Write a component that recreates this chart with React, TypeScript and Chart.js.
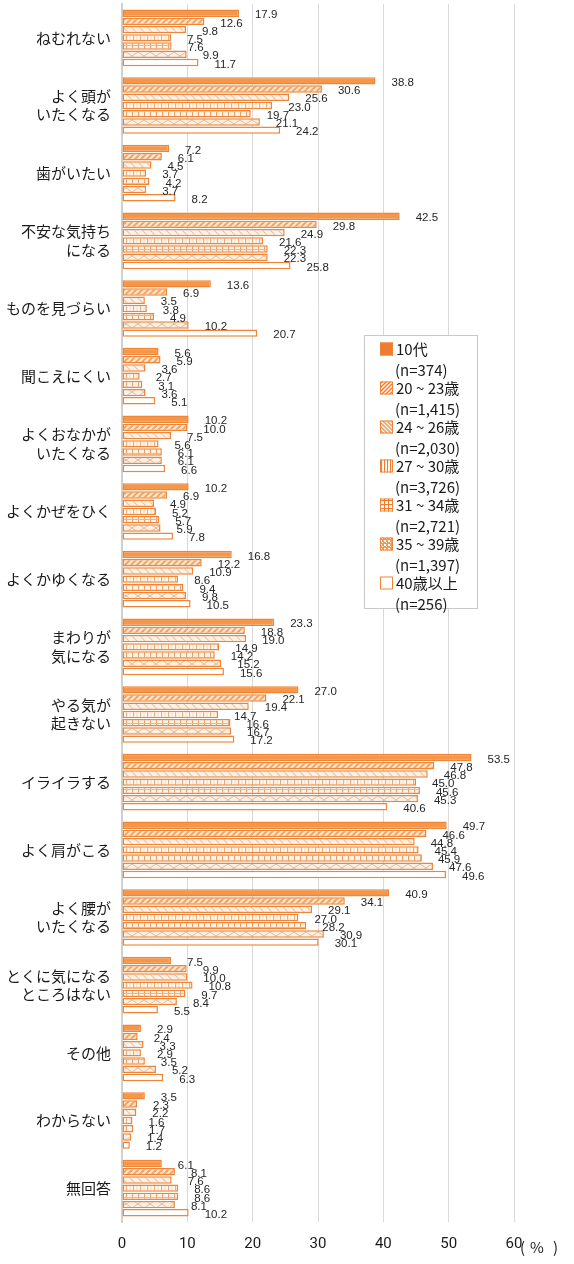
import React, { useEffect, useRef } from 'react';
import { Chart, registerables } from 'chart.js';

Chart.register(...registerables);

const categories: string[][] = [
  ['ねむれない'],
  ['よく頭が', 'いたくなる'],
  ['歯がいたい'],
  ['不安な気持ち', 'になる'],
  ['ものを見づらい'],
  ['聞こえにくい'],
  ['よくおなかが', 'いたくなる'],
  ['よくかぜをひく'],
  ['よくかゆくなる'],
  ['まわりが', '気になる'],
  ['やる気が', '起きない'],
  ['イライラする'],
  ['よく肩がこる'],
  ['よく腰が', 'いたくなる'],
  ['とくに気になる', 'ところはない'],
  ['その他'],
  ['わからない'],
  ['無回答'],
];

const seriesNames = ['10代', '20 ~ 23歳', '24 ~ 26歳', '27 ~ 30歳', '31 ~ 34歳', '35 ~ 39歳', '40歳以上'];
const sampleSizes = ['(n=374)', '(n=1,415)', '(n=2,030)', '(n=3,726)', '(n=2,721)', '(n=1,397)', '(n=256)'];

const teens = [17.9, 38.8, 7.2, 42.5, 13.6, 5.6, 10.2, 10.2, 16.8, 23.3, 27.0, 53.5, 49.7, 40.9, 7.5, 2.9, 3.5, 6.1];
const age20to23 = [12.6, 30.6, 6.1, 29.8, 6.9, 5.9, 10.0, 6.9, 12.2, 18.8, 22.1, 47.8, 46.6, 34.1, 9.9, 2.4, 2.3, 8.1];
const age24to26 = [9.8, 25.6, 4.5, 24.9, 3.5, 3.6, 7.5, 4.9, 10.9, 19.0, 19.4, 46.8, 44.8, 29.1, 10.0, 3.3, 2.2, 7.6];
const age27to30 = [7.5, 23.0, 3.7, 21.6, 3.8, 2.7, 5.6, 5.2, 8.6, 14.9, 14.7, 45.0, 45.4, 27.0, 10.8, 2.9, 1.6, 8.6];
const age31to34 = [7.6, 19.7, 4.2, 22.3, 4.9, 3.1, 6.1, 5.7, 9.4, 14.2, 16.6, 45.6, 45.9, 28.2, 9.7, 3.5, 1.7, 8.6];
const age35to39 = [9.9, 21.1, 3.7, 22.3, 10.2, 3.6, 6.1, 5.9, 9.8, 15.2, 16.7, 45.3, 47.6, 30.9, 8.4, 5.2, 1.4, 8.1];
const age40plus = [11.7, 24.2, 8.2, 25.8, 20.7, 5.1, 6.6, 7.8, 10.5, 15.6, 17.2, 40.6, 49.6, 30.1, 5.5, 6.3, 1.2, 10.2];

const seriesValues = [teens, age20to23, age24to26, age27to30, age31to34, age35to39, age40plus];

const xTicks = [0, 10, 20, 30, 40, 50, 60];

const ORANGE = '#EF8536';
const JP_FONT = '"Noto Sans CJK JP", "Noto Sans", sans-serif';

function makePattern(w: number, h: number, bg: string, draw: (g: CanvasRenderingContext2D) => void) {
  const c = document.createElement('canvas');
  c.width = w;
  c.height = h;
  const g = c.getContext('2d')!;
  g.fillStyle = bg;
  g.fillRect(0, 0, w, h);
  draw(g);
  return g.createPattern(c, 'repeat')!;
}

function line(g: CanvasRenderingContext2D, x1: number, y1: number, x2: number, y2: number, color: string, w: number) {
  g.strokeStyle = color;
  g.lineWidth = w;
  g.beginPath();
  g.moveTo(x1, y1);
  g.lineTo(x2, y2);
  g.stroke();
}

function barFills(): (string | CanvasPattern)[] {
  return [
    '#F5964A',
    makePattern(6, 6, '#FBE4CE', (g) => {
      const c = '#F0A161';
      line(g, 0, 6, 6, 0, c, 1.8);
      line(g, -3, 3, 3, -3, c, 1.8);
      line(g, 3, 9, 9, 3, c, 1.8);
    }),
    makePattern(8, 8, '#FCF1E7', (g) => {
      const c = '#E2C6AE';
      line(g, 0, 0, 8, 8, c, 1.1);
      line(g, -4, 4, 4, 12, c, 1.1);
      line(g, 4, -4, 12, 4, c, 1.1);
    }),
    makePattern(7, 8, '#FFF6EC', (g) => {
      line(g, 0.5, 0, 0.5, 8, '#E6AE84', 1.3);
      line(g, 4, 0, 4, 8, '#F3D8C0', 1);
    }),
    makePattern(6, 6, '#FFF2E4', (g) => {
      line(g, 0.5, 0, 0.5, 6, '#DFA272', 1.2);
      line(g, 0, 3.5, 6, 3.5, '#E7B892', 1);
    }),
    makePattern(12, 8, '#FCF0E5', (g) => {
      const c = '#D7BDA6';
      line(g, 0, 0, 12, 8, c, 1);
      line(g, 12, 0, 0, 8, c, 1);
    }),
    '#FFFFFF',
  ];
}

function legendFills(): (string | CanvasPattern)[] {
  return [
    '#EE7D31',
    makePattern(4, 4, '#FFFFFF', (g) => {
      const c = '#EE7D31';
      line(g, 0, 4, 4, 0, c, 1.5);
      line(g, -2, 2, 2, -2, c, 1.5);
      line(g, 2, 6, 6, 2, c, 1.5);
    }),
    makePattern(4, 4, '#F3A266', (g) => {
      const c = '#FFFFFF';
      line(g, 0, 0, 4, 4, c, 1.2);
      line(g, -2, 2, 2, 6, c, 1.2);
      line(g, 2, -2, 6, 2, c, 1.2);
    }),
    makePattern(3, 3, '#FFFFFF', (g) => {
      line(g, 0.5, 0, 0.5, 3, '#EE7D31', 1.2);
    }),
    makePattern(4, 4, '#FFFFFF', (g) => {
      line(g, 0.5, 0, 0.5, 4, '#EE7D31', 1.2);
      line(g, 0, 0.5, 4, 0.5, '#EE7D31', 1.2);
    }),
    makePattern(4, 4, '#F29A5A', (g) => {
      g.fillStyle = '#FFFFFF';
      g.fillRect(0, 0, 2, 2);
      g.fillRect(2, 2, 1, 1);
    }),
    '#FFFFFF',
  ];
}

const labelsPlugin = {
  id: 'valueLabels',
  afterDatasetsDraw(chart: any) {
    const ctx = chart.ctx as CanvasRenderingContext2D;
    ctx.save();
    ctx.font = '11.5px "Liberation Sans", Arial, sans-serif';
    ctx.fillStyle = '#262626';
    ctx.textAlign = 'left';
    ctx.textBaseline = 'middle';
    chart.data.datasets.forEach((ds: any, i: number) => {
      const meta = chart.getDatasetMeta(i);
      meta.data.forEach((el: any, j: number) => {
        const v = ds.data[j] as number;
        ctx.fillText(v.toFixed(1), el.x + 16, el.y + 2);
      });
    });
    ctx.restore();
  },
};

const legendPlugin = {
  id: 'boxLegend',
  afterDraw(chart: any) {
    const ctx = chart.ctx as CanvasRenderingContext2D;
    const fills = legendFills();
    ctx.save();
    const bx = 364.5;
    const by = 335.5;
    const bw = 113;
    const bh = 273;
    ctx.fillStyle = '#FFFFFF';
    ctx.fillRect(bx, by, bw, bh);
    ctx.strokeStyle = '#C8C8C8';
    ctx.lineWidth = 1;
    ctx.strokeRect(bx, by, bw, bh);
    ctx.textAlign = 'left';
    ctx.textBaseline = 'middle';
    ctx.font = `15px ${JP_FONT}`;
    seriesNames.forEach((name, i) => {
      const cy = 349 + 39 * i;
      ctx.fillStyle = fills[i] as any;
      ctx.fillRect(380, cy - 6.5, 13, 13);
      ctx.strokeStyle = ORANGE;
      ctx.lineWidth = 1;
      ctx.strokeRect(380.5, cy - 6, 12, 12);
      ctx.fillStyle = '#1A1A1A';
      ctx.fillText(name, 396, cy);
      ctx.fillText(sampleSizes[i], 395, cy + 21);
    });
    // unit label
    ctx.font = `15px ${JP_FONT}`;
    ctx.fillStyle = '#1A1A1A';
    ctx.textAlign = 'left';
    ctx.fillText('(', 520, 1247);
    ctx.textAlign = 'center';
    ctx.fillText('%', 537, 1247);
    ctx.textAlign = 'right';
    ctx.fillText(')', 558, 1247);
    ctx.restore();
  },
};

export default function App() {
  const canvasRef = useRef<HTMLCanvasElement | null>(null);

  useEffect(() => {
    if (!canvasRef.current) return;
    const fills = barFills();
    const chart = new Chart(canvasRef.current, {
      type: 'bar',
      data: {
        labels: categories,
        datasets: seriesValues.map((vals, i) => ({
          label: seriesNames[i],
          data: vals,
          backgroundColor: fills[i] as any,
          borderColor: ORANGE,
          borderWidth: 1.5,
          borderSkipped: false,
          categoryPercentage: 0.85,
          barPercentage: 0.9,
        })),
      },
      options: {
        indexAxis: 'y',
        responsive: false,
        animation: false,
        devicePixelRatio: 1,
        layout: { padding: { top: 4, right: 60, bottom: 0, left: 0 } },
        plugins: {
          legend: { display: false },
          tooltip: { enabled: false },
          title: { display: false },
        },
        scales: {
          x: {
            type: 'linear',
            position: 'bottom',
            min: 0,
            max: 60,
            afterFit: (s: any) => {
              s.height = 42;
              s.paddingLeft = 0;
              s.paddingRight = 0;
            },
            afterBuildTicks: (s: any) => {
              s.ticks = xTicks.map((v) => ({ value: v }));
            },
            ticks: {
              color: '#1A1A1A',
              padding: 13,
              font: { family: '"Liberation Sans Narrow", Roboto, sans-serif', size: 15 },
            },
            grid: { color: '#D9D9D9', lineWidth: 1, drawTicks: false },
            border: { display: false },
          },
          y: {
            type: 'category',
            afterFit: (s: any) => {
              s.width = 122;
              s.paddingTop = 0;
              s.paddingBottom = 0;
            },
            ticks: {
              color: '#1A1A1A',
              padding: 11,
              autoSkip: false,
              font: { family: JP_FONT, size: 15, lineHeight: 1.22 },
            },
            grid: { display: false, drawTicks: false },
            border: { display: true, color: '#D0D0D0', width: 2 },
          },
        },
      },
      plugins: [labelsPlugin, legendPlugin],
    } as any);
    return () => chart.destroy();
  }, []);

  return (
    <div style={{ position: 'absolute', left: 0, top: 0, width: 574, height: 1264, background: '#FFFFFF' }}>
      <canvas ref={canvasRef} width={574} height={1264} style={{ width: 574, height: 1264, display: 'block' }} />
    </div>
  );
}
